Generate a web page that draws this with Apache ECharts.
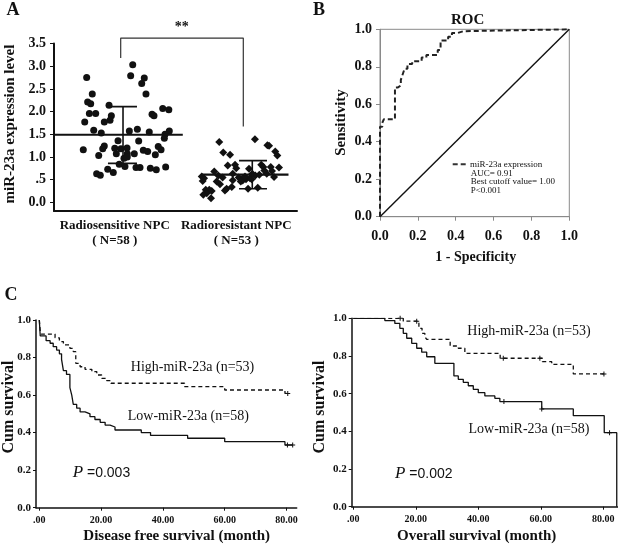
<!DOCTYPE html>
<html><head><meta charset="utf-8">
<script src="https://cdn.jsdelivr.net/npm/echarts@6/dist/echarts.min.js"></script>
<style>html,body{margin:0;padding:0;background:#fff}#c{width:618px;height:544px}</style>
</head><body><div id="c"></div>
<script>
// ---------- Panel A data ----------
const groupNames = ['Radiosensitive NPC', 'Radioresistant NPC'];
const groupN = ['( N=58 )', '( N=53 )'];
const yTicksA = [0, 0.5, 1, 1.5, 2, 2.5, 3, 3.5];
const sensitiveJitter = [0.269,0.648,0.631,0.743,0.722,0.315,0.757,0.277,0.302,0.453,0.291,0.343,0.472,0.461,0.414,0.253,0.807,0.823,0.895,0.945,0.327,0.389,0.620,0.686,0.784,0.949,0.914,0.527,0.697,0.908,0.241,0.414,0.401,0.500,0.551,0.601,0.735,0.771,0.858,0.881,0.368,0.513,0.603,0.661,0.834,0.576,0.603,0.537,0.584,0.675,0.708,0.793,0.842,0.919,0.442,0.488,0.351,0.381];
const sensitiveValues = [2.75,3.03,2.79,2.74,2.62,2.39,2.39,2.21,2.17,2.14,1.96,1.96,1.91,1.81,1.77,1.77,1.94,1.91,2.07,2.04,1.59,1.53,1.57,1.61,1.55,1.57,1.50,1.36,1.35,1.41,1.16,1.24,1.18,1.19,1.18,1.20,1.15,1.12,1.23,1.16,1.03,1.07,1.07,1.07,1.05,0.97,1.00,0.84,0.79,0.77,0.77,0.75,0.72,0.78,0.73,0.66,0.63,0.60];
const resistantJitter = [1.360,1.654,1.756,1.770,1.393,1.449,1.821,1.838,1.430,1.490,1.500,1.605,1.706,1.723,1.784,1.852,1.319,1.388,1.216,1.224,1.520,1.545,1.564,1.580,1.613,1.657,1.690,1.811,1.751,1.339,1.366,1.471,1.463,1.407,1.421,1.249,1.278,1.298,1.257,1.229,1.292,1.597,1.677,1.553,1.627,1.537,1.632,1.572,1.731,1.794,1.352,1.235,1.471];
const resistantValues = [1.33,1.39,1.26,1.25,1.10,1.05,1.12,1.03,0.81,0.83,0.75,0.74,0.83,0.78,0.78,0.77,0.68,0.55,0.57,0.47,0.55,0.51,0.54,0.51,0.53,0.59,0.61,0.56,0.63,0.46,0.40,0.49,0.34,0.26,0.30,0.28,0.28,0.25,0.20,0.17,0.09,0.30,0.32,0.48,0.51,0.46,0.63,0.57,0.70,0.69,0.59,0.53,0.63];
const groupMean = [1.49, 0.61];
const groupSdLow = [0.86, 0.30];
const groupSdHigh = [2.11, 0.92];

// ---------- Panel B data ----------
const rocTicks = [0, 0.2, 0.4, 0.6, 0.8, 1.0];
const rocFpr = [0,0,0.012,0.012,0.02,0.02,0.079,0.079,0.095,0.095,0.11,0.11,0.12,0.12,0.13,0.13,0.145,0.145,0.17,0.17,0.22,0.22,0.245,0.245,0.305,0.305,0.32,0.32,0.36,0.36,0.38,0.38,0.41,0.41,0.44,0.44,1];
const rocTpr = [0,0.48,0.48,0.50,0.50,0.52,0.52,0.69,0.69,0.70,0.70,0.73,0.73,0.76,0.76,0.79,0.79,0.815,0.815,0.83,0.83,0.85,0.85,0.863,0.863,0.89,0.89,0.94,0.94,0.96,0.96,0.98,0.98,0.99,0.99,1.0,1.0];
const rocLegend = ['miR-23a expression', 'AUC= 0.91', 'Best cutoff value= 1.00', 'P<0.001'];

// ---------- Panel C data ----------
const kmXTicks = [0, 20, 40, 60, 80];
const kmYTicks = [0, 0.2, 0.4, 0.6, 0.8, 1.0];
const dfsHighTime = [0,0.3,0.6,5.1,6.5,7.8,9.9,11,11.8,13.2,14.8,17,18.6,20.2,21.8,23.2,47,60,79.5,80.5];
const dfsHighSurv = [1,0.94,0.925,0.905,0.885,0.867,0.849,0.831,0.769,0.751,0.737,0.725,0.707,0.689,0.677,0.663,0.645,0.627,0.609,0.609];
const dfsHighCensorTime = [80.4];
const dfsHighCensorSurv = [0.609];
const dfsLowTime = [0,0.3,2.2,3.5,4.5,5.6,6.5,7.2,7.8,8.8,9.9,10.5,11,12.1,13.2,14.8,16.4,18,19.7,21.3,22.9,24.5,33,36,48,60,79.5,82];
const dfsLowSurv = [1,0.915,0.89,0.876,0.858,0.84,0.82,0.79,0.73,0.71,0.64,0.60,0.55,0.53,0.51,0.50,0.485,0.47,0.455,0.44,0.43,0.414,0.40,0.385,0.37,0.352,0.334,0.334];
const dfsLowCensorTime = [80.3, 82];
const dfsLowCensorSurv = [0.334, 0.334];
const osHighTime = [0,16,21,22,22.9,23.5,31,33.6,35.7,47,60.5,63.5,70.4,80.5];
const osHighSurv = [1,0.985,0.947,0.92,0.903,0.888,0.853,0.841,0.814,0.788,0.77,0.755,0.705,0.705];
const osHighCensorTime = [15, 20.3, 48, 59.7, 80.2];
const osHighCensorSurv = [1, 0.985, 0.788, 0.788, 0.705];
const osLowTime = [0,10.1,13.3,14.9,16,17.1,18.7,20.3,21.9,23.5,26.1,32.2,33.6,35.2,36.8,38.4,40,42.1,45.3,46.9,60.3,70.4,80.3,84.3];
const osLowSurv = [1,0.988,0.973,0.947,0.92,0.894,0.867,0.841,0.82,0.796,0.761,0.694,0.676,0.66,0.642,0.623,0.605,0.588,0.575,0.558,0.519,0.483,0.393,0];
const osLowCensorTime = [48.2, 60.3, 82];
const osLowCensorSurv = [0.558, 0.519, 0.393];
const kmLabels = ['High-miR-23a (n=53)', 'Low-miR-23a (n=58)'];

// ---------- layout / styles ----------
const F = 'Liberation Serif';
const INK = '#111';
const GRAY = '#8a8a8a';
const LAYOUT_A = [
  {meanX:[0, 1.06], sdX:0.568, capX:[0.444, 0.683]},
  {meanX:[1.216, 1.93], sdX:1.632, capX:[1.523, 1.753]}
];
const BRACKET = {x:[0.549, 1.558], top:3.62, leftBottom:3.18, rightBottom:1.67};
const plusPath = 'path://M4,0L6,0L6,4L10,4L10,6L6,6L6,10L4,10L4,6L0,6L0,4L4,4Z';
const diamondPath = 'path://M5,0L10,5L5,10L0,5Z';

const zip = (a, b) => a.map((v, i) => [v, b[i]]);
function seg(pts, ai, w, extra) {
  return Object.assign({type:'line', xAxisIndex:ai, yAxisIndex:ai, data:pts, symbol:'none', silent:true,
    animation:false, lineStyle:{color:INK, width:w}}, extra || {});
}

const series = [];
// Panel A
[0, 1].forEach(g => {
  const L = LAYOUT_A[g];
  series.push(seg([[L.meanX[0], groupMean[g]], [L.meanX[1], groupMean[g]]], 0, 2.2));
  series.push(seg([[L.sdX, groupSdLow[g]], [L.sdX, groupSdHigh[g]]], 0, 1.6));
  series.push(seg([[L.capX[0], groupSdHigh[g]], [L.capX[1], groupSdHigh[g]]], 0, 1.6));
  series.push(seg([[L.capX[0], groupSdLow[g]], [L.capX[1], groupSdLow[g]]], 0, 1.6));
});
series.push(seg([[BRACKET.x[0], BRACKET.leftBottom], [BRACKET.x[0], BRACKET.top], [BRACKET.x[1], BRACKET.top], [BRACKET.x[1], BRACKET.rightBottom]], 0, 1.2, {clip:false, lineStyle:{color:'#333', width:1.2}}));
series.push({type:'scatter', xAxisIndex:0, yAxisIndex:0, data:zip(sensitiveJitter, sensitiveValues), symbol:'circle', symbolSize:7, itemStyle:{color:INK, opacity:1}, silent:true, animation:false});
series.push({type:'scatter', xAxisIndex:0, yAxisIndex:0, data:zip(resistantJitter, resistantValues), symbol:diamondPath, symbolSize:8, itemStyle:{color:INK, opacity:1}, silent:true, animation:false});
// Panel B
series.push(seg([[0, 0], [1, 1]], 1, 1.4));
series.push(seg(zip(rocFpr, rocTpr), 1, 2, {lineStyle:{color:'#222', width:2, type:[5, 3]}}));
// Panel C
function km(t, s, ai, dashed) {
  return seg(zip(t, s), ai, 1.3, {step:'end', lineStyle:{color:INK, width:1.3, type: dashed ? [4, 3] : 'solid'}});
}
function cens(t, s, ai) {
  return {type:'scatter', xAxisIndex:ai, yAxisIndex:ai, data:zip(t, s), symbol:plusPath, symbolSize:5, itemStyle:{color:INK, opacity:1}, silent:true, animation:false, clip:false};
}
series.push(km(dfsHighTime, dfsHighSurv, 2, true), cens(dfsHighCensorTime, dfsHighCensorSurv, 2));
series.push(km(dfsLowTime, dfsLowSurv, 2, false), cens(dfsLowCensorTime, dfsLowCensorSurv, 2));
series.push(km(osHighTime, osHighSurv, 3, true), cens(osHighCensorTime, osHighCensorSurv, 3));
series.push(km(osLowTime, osLowSurv, 3, false), cens(osLowCensorTime, osLowCensorSurv, 3));

const boldLabel = (size, extra) => Object.assign({fontFamily:F, fontWeight:'bold', fontSize:size, color:INK}, extra || {});

const option = {
  backgroundColor:'#fff',
  animation:false,
  grid:[
    {left:54, top:43.5, width:243, height:167.5},
    {left:380, top:29.3, width:189.3, height:187.4, show:true, borderColor:GRAY, borderWidth:1, backgroundColor:'transparent'},
    {left:36, top:320, width:260.7, height:187.7},
    {left:351.7, top:318.3, width:266.3, height:188.4}
  ],
  xAxis:[
    {type:'value', gridIndex:0, min:0, max:2, splitLine:{show:false},
     axisLine:{show:true, onZero:false, lineStyle:{color:INK, width:2}}, axisTick:{show:false},
     axisLabel:boldLabel(13, {customValues:[0.5, 1.5], lineHeight:15, margin:7,
       formatter:v => { const i = Math.round(v - 0.5); return groupNames[i] + '\n' + groupN[i]; }})},
    {type:'value', gridIndex:1, min:0, max:1, interval:0.2, splitLine:{show:false},
     axisLine:{show:true, onZero:false, lineStyle:{color:GRAY, width:1}},
     axisTick:{show:true, length:4, lineStyle:{color:GRAY}},
     axisLabel:boldLabel(14, {margin:13, formatter:v => v.toFixed(1)})},
    {type:'value', gridIndex:2, min:-1.07, max:83.3, splitLine:{show:false},
     axisLine:{show:true, onZero:false, lineStyle:{color:INK, width:1.5}},
     axisTick:{show:true, length:3, customValues:kmXTicks, lineStyle:{color:INK}},
     axisLabel:boldLabel(10, {customValues:kmXTicks, margin:8, formatter:v => v === 0 ? '.00' : v.toFixed(2)})},
    {type:'value', gridIndex:3, min:-0.5, max:84.7, splitLine:{show:false},
     axisLine:{show:true, onZero:false, lineStyle:{color:INK, width:1.5}},
     axisTick:{show:true, length:3, customValues:kmXTicks, lineStyle:{color:INK}},
     axisLabel:boldLabel(10, {customValues:kmXTicks, margin:8, formatter:v => v === 0 ? '.00' : v.toFixed(2)})}
  ],
  yAxis:[
    {type:'value', gridIndex:0, min:-0.19, max:3.5, splitLine:{show:false},
     axisLine:{show:true, onZero:false, lineStyle:{color:INK, width:2}},
     axisTick:{show:true, length:4, customValues:yTicksA, lineStyle:{color:INK}},
     axisLabel:boldLabel(14, {customValues:yTicksA, margin:8,
       formatter:v => v < 0.01 ? '0.0' : (Math.abs(v - 0.5) < 0.01 ? '.5' : v.toFixed(1))})},
    {type:'value', gridIndex:1, min:0, max:1, interval:0.2, splitLine:{show:false},
     axisLine:{show:true, onZero:false, lineStyle:{color:GRAY, width:1}},
     axisTick:{show:true, length:4, lineStyle:{color:GRAY}},
     axisLabel:boldLabel(14, {margin:8, formatter:v => v.toFixed(1)})},
    {type:'value', gridIndex:2, min:0, max:1, interval:0.2, splitLine:{show:false},
     axisLine:{show:true, onZero:false, lineStyle:{color:INK, width:1.5}},
     axisTick:{show:true, length:3, lineStyle:{color:INK}},
     axisLabel:boldLabel(11, {margin:5, formatter:v => v.toFixed(1)})},
    {type:'value', gridIndex:3, min:0, max:1, interval:0.2, splitLine:{show:false},
     axisLine:{show:true, onZero:false, lineStyle:{color:INK, width:1.5}},
     axisTick:{show:true, length:3, lineStyle:{color:INK}},
     axisLabel:boldLabel(11, {margin:5, formatter:v => v.toFixed(1)})}
  ],
  series:series,
  graphic:[]
};

function txt(x, y, text, size, opts) {
  opts = opts || {};
  return {type:'text', x:x, y:y, rotation:opts.rot || 0, silent:true,
    style:{text:text, fontFamily:opts.family || F, fontWeight:opts.weight || 'bold', fontStyle:opts.style || 'normal',
      fontSize:size, fill:INK, align:opts.align || 'center', verticalAlign:'middle'}};
}
const G = option.graphic;
G.push(txt(13, 10, 'A', 18), txt(319, 10, 'B', 18), txt(11, 295, 'C', 18));
G.push(txt(181.7, 27, '**', 14));
G.push(txt(10, 124, 'miR-23a expression level', 15, {rot:Math.PI / 2}));
G.push(txt(467.7, 20, 'ROC', 15));
G.push(txt(341, 122.5, 'Sensitivity', 15, {rot:Math.PI / 2}));
G.push(txt(475.7, 257, '1 - Specificity', 14));
G.push({type:'line', silent:true, shape:{x1:452.7, y1:164.3, x2:466.7, y2:164.3},
  style:{stroke:'#333', lineWidth:2, lineDash:[5, 3]}});
G.push(txt(470, 164.3, rocLegend[0], 9, {weight:'normal', align:'left'}));
G.push(txt(470.7, 173.5, rocLegend[1], 9, {weight:'normal', align:'left'}));
G.push(txt(470.7, 182, rocLegend[2], 9, {weight:'normal', align:'left'}));
G.push(txt(470.7, 190.5, rocLegend[3], 9, {weight:'normal', align:'left'}));
// Panel C labels
G.push(txt(8.5, 407, 'Cum survival', 16, {rot:Math.PI / 2}));
G.push(txt(319.5, 407, 'Cum survival', 16, {rot:Math.PI / 2}));
G.push(txt(176.7, 536, 'Disease free survival (month)', 15));
G.push(txt(476.7, 536, 'Overall survival (month)', 15));
G.push(txt(192.5, 367.3, kmLabels[0], 14, {weight:'normal'}));
G.push(txt(188.3, 416.7, kmLabels[1], 14, {weight:'normal'}));
G.push(txt(529, 331.7, kmLabels[0], 14, {weight:'normal'}));
G.push(txt(529, 429, kmLabels[1], 14, {weight:'normal'}));
function pText(x, y, val) {
  return {type:'text', x:x, y:y, silent:true,
    style:{text:'{p|P}{n| =' + val + '}', align:'left', verticalAlign:'middle', fill:INK,
      rich:{p:{fontFamily:F, fontStyle:'italic', fontSize:17, fill:INK},
            n:{fontFamily:'Liberation Sans', fontSize:14, fill:INK}}}};
}
G.push(pText(72.7, 472.7, '0.003'), pText(395, 474, '0.002'));

const chart = echarts.init(document.getElementById('c'), null, {renderer:'canvas', width:618, height:544});
chart.setOption(option);
</script>
</body></html>
